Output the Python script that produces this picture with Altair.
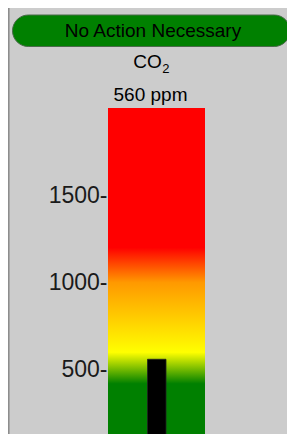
import altair as alt
import pandas as pd

# ---- data ----
status_text = ["No Action Necessary"]
gas_main = ["CO"]
gas_sub = ["2"]
unit = ["ppm"]
reading = [560]
scale_bounds = [0, 2000]
tick_values = [500, 1000, 1500]
stop_values = [0, 420, 600, 1000, 1200, 2000]
stop_colors = ["#008000", "#008000", "#ffff00", "#ff9900", "#ff0000", "#ff0000"]

FONT = "Liberation Sans"

Y = alt.Scale(domain=scale_bounds, range=[349, 0], nice=False, zero=False)
AX = alt.Axis(
    values=tick_values,
    format="d",
    labelExpr="datum.label + '-'",
    title=None,
    tickSize=0,
    grid=False,
    domainColor="#999999",
    domainWidth=1,
    labelFontSize=23,
    labelFont=FONT,
    labelColor="#1a1a1a",
    labelPadding=1,
)

gauge_df = pd.DataFrame({"lo": [scale_bounds[0]], "hi": [scale_bounds[1]]})
reading_df = pd.DataFrame({"v": reading, "base": [scale_bounds[0]], "unit": unit})
status_df = pd.DataFrame({"status": status_text, "gas": gas_main, "sub": gas_sub})

stops = [
    alt.GradientStop(offset=v / scale_bounds[1], color=c)
    for v, c in zip(stop_values, stop_colors)
]
grad = alt.LinearGradient(gradient="linear", stops=stops, x1=0, x2=0, y1=1, y2=0)

gradient = alt.Chart(gauge_df).mark_rect(fill=grad).encode(
    y=alt.Y("hi:Q", scale=Y, axis=AX),
    y2="lo:Q",
    x=alt.value(0),
    x2=alt.value(97),
)

bar = alt.Chart(reading_df).mark_rect(color="black", stroke="#222222", strokeWidth=0.8).encode(
    y=alt.Y("v:Q", scale=Y, axis=AX),
    y2="base:Q",
    x=alt.value(39.5),
    x2=alt.value(58),
)

border = alt.Chart(status_df).mark_rule(color="#8a8a8a", strokeWidth=1.5).encode(
    x=alt.value(-99.2),
    y=alt.value(-100),
    y2=alt.value(330),
)

pill = alt.Chart(status_df).mark_rect(
    cornerRadius=16, fill="#008000", stroke="#4a6a4a", strokeWidth=1
).encode(
    x=alt.value(-95.5),
    x2=alt.value(182),
    y=alt.value(-93),
    y2=alt.value(-61.5),
)

status = alt.Chart(status_df).mark_text(
    font=FONT, fontSize=19, color="#000000", align="center", baseline="alphabetic"
).encode(x=alt.value(45), y=alt.value(-71), text="status:N")

gas = alt.Chart(status_df).mark_text(
    font=FONT, fontSize=19, color="#000000", align="right", baseline="alphabetic"
).encode(x=alt.value(53.8), y=alt.value(-39.7), text="gas:N")

gas2 = alt.Chart(status_df).mark_text(
    font=FONT, fontSize=13, color="#000000", align="left", baseline="alphabetic"
).encode(x=alt.value(54.3), y=alt.value(-35.3), text="sub:N")

value_text = alt.Chart(reading_df).transform_calculate(
    label="datum.v + ' ' + datum.unit"
).mark_text(
    font=FONT, fontSize=19, color="#000000", align="center", baseline="alphabetic"
).encode(x=alt.value(42.5), y=alt.value(-7.5), text="label:N")

chart = (
    alt.layer(gradient, bar, border, pill, status, gas, gas2, value_text)
    .properties(
        width=97,
        height=326,
        background="#cccccc",
        padding={"left": 100, "top": 100, "right": 82, "bottom": 0},
        autosize=alt.AutoSizeParams(type="none"),
    )
    .configure_view(strokeWidth=0)
)

chart.save("out.html", embed_options={"renderer": "svg", "actions": False})
